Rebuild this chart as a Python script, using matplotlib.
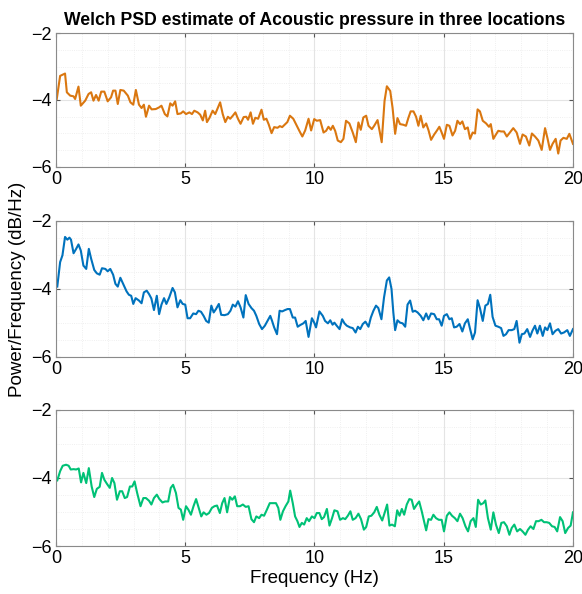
import numpy as np
import matplotlib
matplotlib.use("Agg")
import matplotlib.pyplot as plt
from matplotlib.ticker import MultipleLocator

# Welch PSD values (Hz, dB/Hz)
freq_top = [0.03, 0.16, 0.35, 0.42, 0.55, 0.68, 0.74, 0.87, 0.96, 1.13, 1.26, 1.36, 1.45, 1.55, 1.65,
            1.75, 1.87, 2.00, 2.13, 2.21, 2.30, 2.39, 2.49, 2.62, 2.78, 2.88, 2.99, 3.09, 3.21, 3.31,
            3.40, 3.48, 3.60, 3.70, 3.86, 3.99, 4.08, 4.21, 4.31, 4.42, 4.51, 4.61, 4.70, 4.83, 4.92,
            5.03, 5.16, 5.26, 5.35, 5.48, 5.58, 5.68, 5.77, 5.84, 5.94, 6.06, 6.16, 6.26, 6.35, 6.45,
            6.55, 6.65, 6.74, 6.84, 6.94, 7.04, 7.14, 7.26, 7.36, 7.43, 7.53, 7.62, 7.71, 7.82, 7.95,
            8.04, 8.14, 8.23, 8.34, 8.44, 8.57, 8.66, 8.75, 8.86, 8.95, 9.05, 9.18, 9.31, 9.42, 9.53,
            9.64, 9.77, 9.87, 9.99, 10.09, 10.22, 10.35, 10.45, 10.54, 10.63, 10.71, 10.80, 10.90, 11.02,
            11.12, 11.22, 11.35, 11.48, 11.60, 11.70, 11.79, 11.89, 12.00, 12.09, 12.22, 12.31, 12.44,
            12.60, 12.71, 12.80, 12.93, 13.02, 13.12, 13.21, 13.31, 13.44, 13.54, 13.63, 13.72, 13.83,
            13.93, 14.02, 14.11, 14.21, 14.32, 14.41, 14.51, 14.63, 14.73, 14.83, 14.92, 15.01, 15.12,
            15.22, 15.34, 15.44, 15.53, 15.63, 15.72, 15.82, 15.93, 16.02, 16.12, 16.21, 16.31, 16.40,
            16.51, 16.64, 16.75, 16.82, 16.92, 17.02, 17.11, 17.22, 17.33, 17.44, 17.56, 17.69, 17.82,
            17.95, 18.05, 18.18, 18.31, 18.41, 18.53, 18.66, 18.79, 18.92, 19.01, 19.11, 19.21, 19.33,
            19.43, 19.52, 19.63, 19.76, 19.86, 20.0]
psd_top = [-3.97, -3.28, -3.21, -3.77, -3.87, -3.89, -3.97, -3.60, -4.17, -4.02, -3.82, -3.77, -4.02,
           -3.85, -4.02, -3.75, -3.75, -4.04, -3.92, -3.72, -3.72, -4.12, -3.70, -3.72, -3.87, -4.07,
           -4.14, -3.70, -4.14, -4.24, -4.14, -4.50, -4.17, -4.28, -4.27, -4.22, -4.17, -4.42, -4.49,
           -4.10, -4.17, -4.04, -4.42, -4.40, -4.34, -4.42, -4.37, -4.42, -4.32, -4.37, -4.44, -4.61,
           -4.32, -4.66, -4.53, -4.32, -4.42, -4.24, -4.07, -4.42, -4.66, -4.50, -4.56, -4.47, -4.37,
           -4.56, -4.71, -4.51, -4.50, -4.59, -4.37, -4.71, -4.53, -4.56, -4.29, -4.59, -4.56, -4.73,
           -4.99, -4.81, -4.83, -4.78, -4.81, -4.73, -4.66, -4.47, -4.56, -4.76, -4.93, -5.09, -4.91,
           -4.56, -4.91, -4.57, -4.62, -4.60, -4.97, -4.92, -4.80, -4.89, -4.77, -4.92, -5.21, -5.26,
           -5.16, -4.62, -4.70, -4.97, -5.26, -4.67, -4.89, -4.52, -4.47, -4.77, -4.87, -4.77, -4.60,
           -5.26, -4.03, -3.59, -3.73, -4.23, -5.01, -4.54, -4.72, -4.74, -4.77, -4.54, -4.34, -4.34,
           -4.50, -4.77, -4.47, -4.82, -4.70, -4.90, -5.19, -5.03, -4.92, -4.80, -4.97, -5.16, -4.74,
           -4.77, -5.06, -4.92, -4.62, -4.72, -4.64, -4.87, -4.82, -5.16, -4.97, -5.00, -4.28, -4.34,
           -4.62, -4.70, -4.80, -4.72, -5.16, -5.03, -4.92, -4.94, -4.94, -5.09, -4.97, -4.84, -4.97,
           -5.31, -5.03, -5.09, -5.36, -5.00, -5.09, -5.21, -5.49, -4.84, -5.13, -5.49, -5.31, -5.16,
           -5.60, -5.21, -5.13, -5.16, -5.01, -5.31]

freq_mid = [0.05, 0.16, 0.25, 0.35, 0.44, 0.52, 0.58, 0.68, 0.78, 0.87, 0.96, 1.06, 1.17, 1.27, 1.36,
            1.48, 1.58, 1.69, 1.78, 1.91, 2.00, 2.10, 2.21, 2.30, 2.39, 2.49, 2.60, 2.73, 2.82, 2.91,
            2.99, 3.08, 3.21, 3.31, 3.40, 3.51, 3.60, 3.69, 3.79, 3.90, 3.99, 4.08, 4.18, 4.27, 4.38,
            4.51, 4.60, 4.70, 4.81, 4.90, 5.00, 5.09, 5.19, 5.31, 5.42, 5.51, 5.61, 5.71, 5.81, 5.91,
            6.01, 6.10, 6.19, 6.30, 6.39, 6.52, 6.65, 6.75, 6.84, 6.94, 7.04, 7.14, 7.25, 7.34, 7.45,
            7.56, 7.66, 7.75, 7.86, 7.97, 8.08, 8.18, 8.29, 8.36, 8.44, 8.55, 8.65, 8.75, 8.86, 8.96,
            9.05, 9.16, 9.25, 9.35, 9.45, 9.57, 9.66, 9.77, 9.90, 9.99, 10.06, 10.19, 10.32, 10.41,
            10.52, 10.61, 10.70, 10.77, 10.86, 10.97, 11.07, 11.16, 11.25, 11.38, 11.48, 11.59, 11.68,
            11.77, 11.87, 11.97, 12.09, 12.18, 12.28, 12.38, 12.47, 12.59, 12.69, 12.80, 12.89, 12.98,
            13.05, 13.12, 13.21, 13.31, 13.41, 13.51, 13.60, 13.70, 13.80, 13.89, 13.99, 14.11, 14.21,
            14.32, 14.41, 14.51, 14.63, 14.73, 14.82, 14.92, 15.01, 15.12, 15.22, 15.31, 15.40, 15.50,
            15.61, 15.72, 15.82, 15.93, 16.02, 16.12, 16.21, 16.31, 16.40, 16.51, 16.61, 16.71, 16.80,
            16.89, 17.00, 17.11, 17.22, 17.31, 17.41, 17.51, 17.63, 17.73, 17.82, 17.93, 18.02, 18.12,
            18.23, 18.34, 18.43, 18.53, 18.62, 18.72, 18.83, 18.92, 19.01, 19.11, 19.21, 19.32, 19.43,
            19.54, 19.65, 19.78, 19.88, 20.0]
psd_mid = [-3.93, -3.21, -3.01, -2.47, -2.55, -2.49, -2.55, -2.95, -2.82, -2.69, -2.87, -3.31, -3.41,
           -2.82, -3.11, -3.44, -3.54, -3.58, -3.39, -3.41, -3.48, -3.41, -3.58, -3.85, -3.93, -3.67,
           -3.85, -4.07, -4.17, -4.20, -4.44, -4.27, -4.34, -4.42, -4.10, -4.05, -4.15, -4.28, -4.62,
           -4.20, -4.74, -4.46, -4.27, -4.44, -4.25, -3.97, -4.10, -4.54, -4.33, -4.44, -4.46, -4.86,
           -4.86, -4.72, -4.74, -4.64, -4.67, -4.79, -4.94, -4.99, -4.49, -4.69, -4.59, -4.44, -4.76,
           -4.77, -4.74, -4.64, -4.46, -4.52, -4.36, -4.54, -4.84, -4.18, -4.44, -4.56, -4.64, -4.79,
           -5.03, -5.18, -5.08, -4.94, -4.79, -4.94, -5.13, -5.33, -4.64, -4.66, -4.62, -4.59, -4.59,
           -4.84, -4.84, -5.11, -5.06, -5.01, -4.94, -5.41, -4.86, -4.99, -5.13, -4.66, -4.79, -4.94,
           -5.01, -4.92, -5.05, -4.99, -5.08, -5.18, -4.89, -5.01, -5.08, -5.13, -5.15, -5.28, -5.11,
           -5.18, -5.03, -4.96, -5.11, -4.84, -4.64, -4.49, -4.56, -4.89, -4.25, -3.75, -3.66, -4.00,
           -4.69, -5.21, -4.92, -4.99, -5.01, -5.11, -4.46, -4.34, -4.67, -4.64, -4.69, -4.79, -4.92,
           -4.72, -4.89, -4.72, -4.74, -4.89, -4.89, -5.08, -4.79, -4.74, -4.89, -4.86, -5.13, -5.11,
           -5.03, -5.25, -5.01, -4.89, -5.18, -5.48, -5.28, -4.33, -4.56, -4.94, -4.49, -4.44, -4.17,
           -4.82, -5.08, -5.11, -5.15, -5.38, -5.33, -5.21, -5.21, -5.18, -4.94, -5.58, -5.33, -5.31,
           -5.18, -5.41, -5.23, -5.08, -5.31, -5.08, -5.38, -5.13, -5.21, -5.01, -5.33, -5.23, -5.18,
           -5.31, -5.28, -5.21, -5.38, -5.18]

freq_bot = [0.05, 0.16, 0.26, 0.39, 0.49, 0.57, 0.68, 0.78, 0.88, 0.97, 1.06, 1.17, 1.27, 1.38, 1.48,
            1.58, 1.69, 1.78, 1.87, 1.97, 2.08, 2.17, 2.26, 2.36, 2.47, 2.56, 2.66, 2.75, 2.86, 2.95,
            3.04, 3.14, 3.27, 3.38, 3.48, 3.60, 3.69, 3.79, 3.90, 4.00, 4.12, 4.22, 4.34, 4.44, 4.53,
            4.64, 4.74, 4.83, 4.92, 5.03, 5.12, 5.22, 5.32, 5.42, 5.52, 5.62, 5.71, 5.82, 5.92, 6.03,
            6.13, 6.23, 6.34, 6.43, 6.52, 6.62, 6.73, 6.82, 6.92, 7.01, 7.12, 7.23, 7.34, 7.45, 7.56,
            7.66, 7.75, 7.86, 7.95, 8.05, 8.16, 8.27, 8.40, 8.51, 8.60, 8.68, 8.78, 8.88, 8.99, 9.06,
            9.16, 9.25, 9.34, 9.42, 9.51, 9.60, 9.70, 9.79, 9.90, 10.00, 10.09, 10.19, 10.28, 10.37,
            10.48, 10.58, 10.68, 10.77, 10.89, 10.99, 11.10, 11.19, 11.29, 11.39, 11.48, 11.59, 11.70,
            11.80, 11.91, 12.00, 12.10, 12.20, 12.31, 12.41, 12.51, 12.62, 12.72, 12.81, 12.90, 13.00,
            13.11, 13.20, 13.29, 13.38, 13.47, 13.57, 13.67, 13.76, 13.85, 13.96, 14.05, 14.15, 14.24,
            14.32, 14.41, 14.51, 14.60, 14.70, 14.81, 14.92, 15.01, 15.12, 15.22, 15.32, 15.43, 15.53,
            15.63, 15.73, 15.84, 15.94, 16.04, 16.15, 16.24, 16.33, 16.43, 16.53, 16.61, 16.71, 16.82,
            16.92, 17.02, 17.13, 17.23, 17.33, 17.44, 17.54, 17.63, 17.73, 17.84, 17.95, 18.05, 18.16,
            18.26, 18.36, 18.47, 18.57, 18.67, 18.78, 18.88, 18.98, 19.08, 19.19, 19.29, 19.39, 19.50,
            19.60, 19.70, 19.81, 19.91, 20.0]
psd_bot = [-4.07, -3.80, -3.64, -3.61, -3.64, -3.75, -3.74, -3.75, -3.72, -4.13, -3.85, -4.15, -3.71,
           -4.25, -4.56, -4.32, -4.26, -3.85, -4.05, -4.17, -4.29, -4.00, -4.15, -4.64, -4.39, -4.39,
           -4.59, -4.56, -4.25, -4.25, -4.10, -4.44, -4.83, -4.59, -4.59, -4.67, -4.78, -4.59, -4.49,
           -4.62, -4.72, -4.69, -4.69, -4.29, -4.20, -4.44, -4.88, -4.93, -5.23, -4.83, -4.93, -5.08,
           -4.83, -4.62, -4.88, -5.13, -5.01, -5.08, -5.03, -4.88, -4.83, -4.81, -5.03, -4.74, -4.59,
           -5.01, -4.56, -4.64, -4.54, -4.83, -4.83, -4.78, -4.85, -4.83, -5.21, -5.30, -5.13, -5.18,
           -5.08, -5.11, -4.93, -4.74, -4.74, -4.74, -4.88, -5.23, -4.98, -4.83, -4.69, -4.37, -4.74,
           -5.13, -5.27, -5.44, -5.32, -5.37, -5.18, -5.27, -5.13, -5.18, -5.03, -5.03, -5.21, -5.15,
           -4.91, -5.40, -5.18, -4.95, -4.98, -5.23, -5.18, -5.21, -5.11, -4.98, -5.23, -5.18, -5.05,
           -5.21, -5.52, -5.44, -5.13, -5.11, -5.01, -4.85, -5.08, -5.25, -5.01, -4.78, -5.40, -5.37,
           -5.42, -4.95, -5.11, -4.91, -5.08, -4.78, -4.62, -4.64, -4.91, -4.78, -4.69, -4.98, -5.27,
           -5.54, -5.21, -5.23, -5.08, -5.18, -5.23, -5.23, -5.57, -5.11, -5.01, -5.11, -5.18, -5.27,
           -5.05, -5.18, -5.42, -5.57, -5.27, -5.18, -5.44, -4.64, -4.78, -4.74, -4.66, -5.18, -5.52,
           -5.01, -5.37, -5.62, -5.32, -5.30, -5.42, -5.67, -5.47, -5.37, -5.57, -5.50, -5.57, -5.67,
           -5.52, -5.42, -5.50, -5.27, -5.27, -5.23, -5.30, -5.30, -5.32, -5.42, -5.44, -5.57, -5.15,
           -5.27, -5.62, -5.47, -5.40, -5.01]

series = [(freq_top, psd_top, "#DA7710"),
          (freq_mid, psd_mid, "#0072BD"),
          (freq_bot, psd_bot, "#00C176")]

plt.rcParams["font.family"] = ["Liberation Sans", "DejaVu Sans"]

fig = plt.figure(figsize=(5.82, 5.94), dpi=100)
boxes = [(0.0962, 0.7189, 0.8883, 0.2255),
         (0.0962, 0.3990, 0.8883, 0.2290),
         (0.0962, 0.0808, 0.8883, 0.2290)]

axes = []
for (f, p, col), box in zip(series, boxes):
    ax = fig.add_axes(box)
    ax.plot(f, p, color=col, linewidth=1.5)
    ax.set_xlim(0, 20)
    ax.set_ylim(-6, -2)
    ax.set_xticks([0, 5, 10, 15, 20])
    ax.set_yticks([-6, -4, -2])
    ax.xaxis.set_minor_locator(MultipleLocator(1))
    ax.yaxis.set_minor_locator(MultipleLocator(0.5))
    ax.grid(True, which="major", color="#e4e4e4", linewidth=0.8)
    ax.grid(True, which="minor", color="#ebebeb", linewidth=0.6, linestyle=":")
    ax.set_axisbelow(True)
    ax.tick_params(which="both", direction="in", top=True, right=True,
                   color="#555555", labelsize=13, length=3, pad=3)
    ax.tick_params(which="minor", length=0)
    for s in ax.spines.values():
        s.set_color("#8a8a8a")
        s.set_linewidth(0.8)
    axes.append(ax)

axes[0].set_title("Welch PSD estimate of Acoustic pressure in three locations",
                  fontsize=12.7, fontweight="bold", pad=6)
axes[1].set_ylabel("Power/Frequency (dB/Hz)", fontsize=13.5, labelpad=4)
axes[2].set_xlabel("Frequency (Hz)", fontsize=13.5, labelpad=2)

fig.savefig("out.png", dpi=100)
